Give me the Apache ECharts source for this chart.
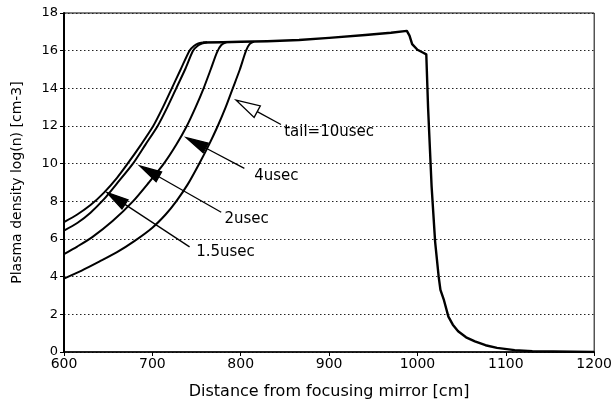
<!DOCTYPE html>
<html><head><meta charset="utf-8">
<script src="https://cdn.jsdelivr.net/npm/echarts@6/dist/echarts.min.js"></script>
<style>html,body{margin:0;padding:0;background:#fff}#c{width:615px;height:405px}</style>
</head><body><div id="c"></div>
<script>
// Rising fronts for each tail duration: [distance cm, log(n)]
const curve15 = [[600,6.9],[615,7.3],[630,7.8],[645,8.45],[660,9.25],[672,10.0],[687,11.0],[701,12.0],[712,13.0],[722,14.0],[732,15.0],[742,16.0],[747,16.25],[752,16.38],[757,16.43]];
const curve2 = [[600,6.45],[615,6.85],[630,7.4],[645,8.1],[660,8.95],[678,10.0],[692,11.0],[706,12.0],[717,13.0],[727,14.0],[737,15.0],[746,16.0],[751,16.25],[756,16.38],[762,16.45]];
const curve4 = [[600,5.2],[615,5.6],[632,6.1],[655,6.95],[678,8.0],[696,9.0],[713,10.0],[727,11.0],[739,12.0],[749,13.0],[758,14.0],[766,15.0],[773,15.9],[778,16.3],[784,16.45]];
const curve10 = [[600,3.9],[620,4.32],[640,4.8],[660,5.3],[680,5.9],[700,6.6],[715,7.3],[727,8.0],[740,8.9],[753,10.0],[764,11.0],[774,12.0],[783,13.0],[791,14.0],[799,15.0],[806,16.0],[810,16.35],[815,16.48]];
// Shared plateau and fall-off
const mainCurve = [[757,16.43],[780,16.45],[800,16.47],[830,16.5],[866,16.57],[900,16.68],[941,16.83],[970,16.95],[988,17.05],[991,16.8],[994,16.35],[1000,16.05],[1006,15.9],[1010,15.8],[1012,13.0],[1016,8.8],[1020,5.85],[1024,4.0],[1026,3.3],[1030,2.75],[1035,1.88],[1040,1.45],[1046,1.1],[1055,0.78],[1065,0.56],[1077,0.36],[1090,0.22],[1110,0.1],[1130,0.04],[1200,0.0]];
// Annotations
const labelText = ['tail=10usec','4usec','2usec','1.5usec'];
const labelPos = [[849.2,11.65],[815.3,9.34],[781.5,7.07],[749.6,5.31]];
const arrowStart = [[845.5,12.08],[804.1,9.75],[777.9,7.42],[742.1,5.58]];
const arrowTip = [[794.8,13.37],[738.4,11.38],[685.7,9.88],[648.2,8.48]];
const arrowHollow = [1,0,0,0];

const chart = echarts.init(document.getElementById('c'), null, {renderer:'canvas'});
const lineStyle = {color:'#000', width:2};
function curveSeries(d){return {type:'line', data:d, symbol:'none', smooth:0.25, lineStyle:lineStyle, z:3, silent:true};}
chart.setOption({
  animation:false,
  backgroundColor:'#fff',
  grid:{left:64, right:19, top:13, bottom:51, show:true, borderColor:'#000', borderWidth:1, backgroundColor:'transparent'},
  xAxis:{type:'value', min:600, max:1200, interval:100,
    name:'Distance from focusing mirror [cm]', nameLocation:'middle', nameGap:32,
    nameTextStyle:{fontFamily:'DejaVu Sans', fontSize:16, color:'#000'},
    axisLine:{lineStyle:{color:'#000', width:1.5}}, axisTick:{show:true, length:4, lineStyle:{color:'#000'}},
    axisLabel:{fontFamily:'DejaVu Sans', fontSize:14, color:'#000', margin:5, formatter:function(v){return String(v);}},
    splitLine:{show:false}},
  yAxis:{type:'value', min:0, max:18, interval:2,
    name:'Plasma density log(n) [cm-3]', nameLocation:'middle', nameGap:40,
    nameTextStyle:{fontFamily:'DejaVu Sans', fontSize:14, color:'#000'},
    axisLine:{show:true, lineStyle:{color:'#000', width:2}}, axisTick:{show:true, length:4, lineStyle:{color:'#000'}},
    axisLabel:{fontFamily:'DejaVu Sans', fontSize:13, color:'#000', margin:6, formatter:function(v){return String(v);}},
    splitLine:{show:true, lineStyle:{color:'#222', width:1, type:[1.5,2.5]}}},
  series:[
    curveSeries(curve15), curveSeries(curve2), curveSeries(curve4), curveSeries(curve10),
    {type:'line', data:mainCurve, symbol:'none', smooth:false, lineStyle:{color:'#000', width:2.4, join:'round'}, z:3, silent:true},
    {type:'custom', silent:true, z:5,
      data:arrowStart.map((s,i)=>[s[0],s[1],arrowTip[i][0],arrowTip[i][1],arrowHollow[i]]),
      renderItem:function(params, api){
        const p1 = api.coord([api.value(0), api.value(1)]);
        const p2 = api.coord([api.value(2), api.value(3)]);
        const hollow = api.value(4) === 1;
        const dx = p2[0]-p1[0], dy = p2[1]-p1[1];
        const len = Math.sqrt(dx*dx+dy*dy);
        const ux = dx/len, uy = dy/len;
        const L = hollow ? 24 : 22, hw = hollow ? 6.5 : 5.5;
        const bx = p2[0]-ux*L, by = p2[1]-uy*L;
        const nx = -uy, ny = ux;
        return {type:'group', children:[
          {type:'line', shape:{x1:p1[0], y1:p1[1], x2:bx, y2:by}, style:{stroke:'#000', lineWidth:1.3}},
          {type:'polygon', shape:{points:[[p2[0],p2[1]],[bx+nx*hw,by+ny*hw],[bx-nx*hw,by-ny*hw]]},
            style:{fill: hollow ? '#fff' : '#000', stroke:'#000', lineWidth:1.3}}
        ]};
      }},
    {type:'custom', silent:true, z:6,
      data:labelPos.map((p,i)=>[p[0],p[1],i]),
      renderItem:function(params, api){
        const p = api.coord([api.value(0), api.value(1)]);
        return {type:'text', x:p[0], y:p[1],
          style:{text:labelText[api.value(2)], fontFamily:'DejaVu Sans', fontSize:15, fill:'#000', align:'left', verticalAlign:'middle'}};
      }}
  ]
});
</script></body></html>
